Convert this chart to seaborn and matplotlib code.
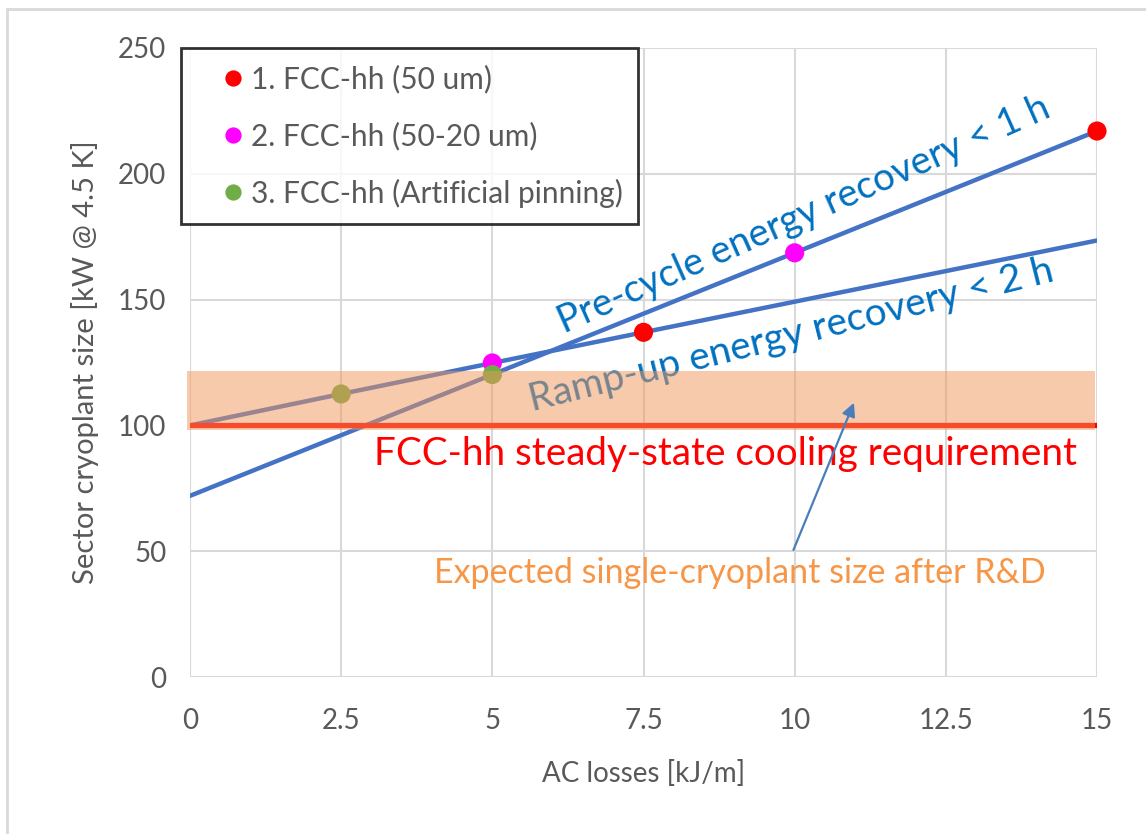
import numpy as np
import pandas as pd
import matplotlib
matplotlib.use("Agg")
import matplotlib.pyplot as plt
from matplotlib.lines import Line2D
import seaborn as sns

# data
pre_x = [0, 5, 10, 15]
pre_y = [72, 120.2, 168.6, 217]
ramp_x = [0, 2.5, 5, 7.5, 15]
ramp_y = [100, 112.5, 124.8, 137, 173.5]

pt_series = ["1. FCC-hh (50 um)", "1. FCC-hh (50 um)",
             "2. FCC-hh (50-20 um)", "2. FCC-hh (50-20 um)",
             "3. FCC-hh (Artificial pinning)", "3. FCC-hh (Artificial pinning)"]
pt_x = [7.5, 15, 5, 10, 2.5, 5]
pt_y = [137, 217, 124.8, 168.6, 112.5, 120.2]

steady_state = 100
band_low, band_high = 98, 121.5

xticks = [0, 2.5, 5, 7.5, 10, 12.5, 15]
xtick_labels = ["0", "2.5", "5", "7.5", "10", "12.5", "15"]
yticks = [0, 50, 100, 150, 200, 250]

sns.set_style("white")
plt.rcParams['font.family'] = ['Lato', 'DejaVu Sans']

grey_txt = "#595959"
blue_line = "#4472C4"
blue_txt = "#0070C0"

fig = plt.figure(figsize=(11.46, 8.34), dpi=100)
ax = fig.add_axes([190/1146, 1 - 677/834, 907/1146, 629/834])

pts = pd.DataFrame({"series": pt_series, "x": pt_x, "y": pt_y})
pre = pd.DataFrame({"x": pre_x, "y": pre_y})
ramp = pd.DataFrame({"x": ramp_x, "y": ramp_y})

sns.lineplot(data=pre, x="x", y="y", color=blue_line, lw=3.2, ax=ax, zorder=3)
sns.lineplot(data=ramp, x="x", y="y", color=blue_line, lw=3.2, ax=ax, zorder=3)
ax.axhline(steady_state, xmin=0, xmax=1, color="red", lw=3.8, zorder=3)

sns.scatterplot(data=pts, x="x", y="y", hue="series",
                palette=["#FF0000", "#FF00FF", "#70AD47"],
                s=190, edgecolor="none", ax=ax, zorder=4, clip_on=False)

# translucent band for the expected plant size, sits on top of the lines
ax.fill_between([-0.05, 14.97], band_low, band_high, color="#F1975B",
                alpha=0.5, lw=0, zorder=6, clip_on=False)

ax.text(10.15, 183.5, "Pre-cycle energy recovery < 1 h", color=blue_txt,
        fontsize=27.5, rotation=24, ha="center", va="center", zorder=5)
ax.text(9.95, 136, "Ramp-up energy recovery < 2 h", color=blue_txt,
        fontsize=28, rotation=14, ha="center", va="center", zorder=5)
ax.text(8.85, 88.5, "FCC-hh steady-state cooling requirement", color="#FF0000",
        fontsize=27.8, ha="center", va="center", zorder=7)
ax.text(9.1, 41.5, "Expected single-cryoplant size after R&D", color="#F79646",
        fontsize=24.5, ha="center", va="center", zorder=7)
ax.annotate("", xy=(10.98, 109), xytext=(9.98, 50.5),
            arrowprops=dict(arrowstyle="-|>", color="#4A7EBB", lw=1.6,
                            mutation_scale=20, shrinkA=0, shrinkB=0),
            zorder=7)

ax.set_xlim(0, 15)
ax.set_ylim(0, 250)
ax.set_xticks(xticks)
ax.set_xticklabels(xtick_labels)
ax.set_yticks(yticks)
ax.grid(True, color="#D9D9D9", lw=1.5)
ax.set_axisbelow(True)
for s in ["top", "right", "left", "bottom"]:
    ax.spines[s].set_visible(False)
ax.tick_params(axis="both", length=0, labelsize=20, labelcolor=grey_txt)
ax.tick_params(axis="x", pad=22)
ax.tick_params(axis="y", pad=17)
ax.set_xlabel("AC losses [kJ/m]", fontsize=20, color=grey_txt, labelpad=19)
ax.set_ylabel("Sector cryoplant size [kW @ 4.5 K]", fontsize=21, color=grey_txt,
              labelpad=14)

leg = ax.legend(loc="upper left", bbox_to_anchor=(-0.01, 0.712, 0.504, 0.288),
                mode="expand", frameon=True, fancybox=False, fontsize=21.5,
                labelspacing=0.95, borderpad=0.55, handletextpad=-0.6,
                handlelength=2.4, borderaxespad=0, markerscale=0.85)
leg.get_frame().set_edgecolor("black")
leg.get_frame().set_linewidth(2)
leg.set_zorder(10)
for t in leg.get_texts():
    t.set_color(grey_txt)

# chart-area border (left and top edges)
fig.add_artist(Line2D([7/1146, 7/1146], [0, 1 - 9/834], color="#D9D9D9", lw=2))
fig.add_artist(Line2D([7/1146, 1], [1 - 9/834, 1 - 9/834], color="#D9D9D9", lw=2))

fig.savefig("out.png", dpi=100)
